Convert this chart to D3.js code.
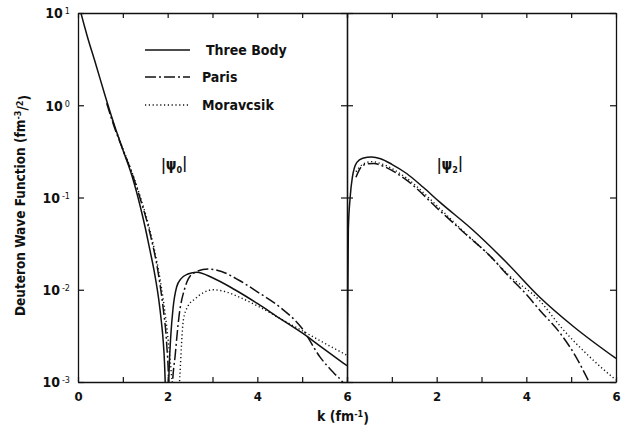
<!DOCTYPE html>
<html><head><meta charset="utf-8">
<script src="https://cdn.jsdelivr.net/npm/d3@7"></script>
<style>
body{margin:0;background:#fff;}
svg{display:block;}
text{font-family:"DejaVu Sans Condensed","Liberation Sans",Arial,sans-serif;font-weight:bold;fill:#111;}
</style></head><body>
<svg id="c" width="626" height="429"></svg>
<script>
// ---------- data ----------
const seriesNames = ["Three Body", "Paris", "Moravcsik"];
const panelLabels = ["0", "2"];
const xTickLabels = [0, 2, 4, 6];
const yTickValues = [1e-3, 1e-2, 1e-1, 1e0, 1e1];
const yTickExps = ["-3", "-2", "-1", "0", "1"];

// |psi_0| (left panel)
const k0Three = [0, 0.2, 0.4, 0.6, 0.8, 1.0, 1.2, 1.4, 1.5, 1.6, 1.7, 1.8, 1.86, 1.9, 1.93, 1.96, 1.98, 2.0, 2.03, 2.07, 2.12, 2.2, 2.3, 2.45, 2.65, 3.0, 3.5, 4.0, 4.5, 5.0, 5.4, 6.0];
const v0Three = [13.2, 5.75, 2.75, 1.29, 0.63, 0.33, 0.174, 0.076, 0.047, 0.0275, 0.0158, 0.0079, 0.0045, 0.0028, 0.0016, 0.0005, 0.0001, 0.0003, 0.00126, 0.0032, 0.0063, 0.0107, 0.0132, 0.0148, 0.0155, 0.0135, 0.0100, 0.0071, 0.0049, 0.0034, 0.00245, 0.0015];
const k0Paris = [0.64, 0.8, 1.0, 1.2, 1.4, 1.6, 1.8, 1.9, 1.98, 2.02, 2.05, 2.1, 2.17, 2.25, 2.39, 2.57, 2.9, 3.2, 3.6, 4.0, 4.5, 5.0, 5.4, 5.7, 5.9, 6.0];
const v0Paris = [1.05, 0.60, 0.33, 0.186, 0.093, 0.042, 0.0141, 0.0063, 0.0025, 0.001, 0.0001, 0.0008, 0.002, 0.005, 0.0107, 0.0151, 0.0168, 0.0158, 0.0126, 0.0095, 0.0065, 0.0038, 0.00186, 0.00126, 0.001, 0.00083];
const k0Morav = [0.66, 0.8, 1.0, 1.2, 1.4, 1.6, 1.8, 1.9, 2.0, 2.08, 2.14, 2.18, 2.22, 2.27, 2.35, 2.45, 2.6, 2.8, 3.0, 3.3, 3.6, 4.0, 4.5, 5.0, 5.4, 6.0];
const v0Morav = [1.0, 0.62, 0.34, 0.19, 0.098, 0.045, 0.0158, 0.0079, 0.0032, 0.00126, 0.0005, 0.0001, 0.0004, 0.00112, 0.0047, 0.0066, 0.0079, 0.0093, 0.0100, 0.0095, 0.0083, 0.0067, 0.0049, 0.0036, 0.0028, 0.00195];

// |psi_2| (right panel)
const k2Three = [0, 0.01, 0.03, 0.07, 0.12, 0.22, 0.35, 0.55, 0.75, 1.0, 1.33, 1.7, 2.07, 2.8, 3.57, 4.3, 5.05, 6.0];
const v2Three = [0.0003, 0.0032, 0.045, 0.1, 0.166, 0.24, 0.266, 0.275, 0.263, 0.229, 0.182, 0.129, 0.089, 0.0447, 0.0195, 0.0083, 0.004, 0.0018];
const k2Paris = [0.2, 0.3, 0.45, 0.6, 0.8, 1.3, 2.07, 2.6, 3.2, 3.6, 4.0, 4.3, 4.75, 5.1, 5.4, 5.5];
const v2Paris = [0.166, 0.209, 0.232, 0.234, 0.219, 0.158, 0.072, 0.042, 0.023, 0.0141, 0.0089, 0.006, 0.0034, 0.0019, 0.001, 0.0008];
const k2Morav = [0.2, 0.35, 0.55, 0.8, 1.3, 2.07, 2.6, 3.2, 3.6, 4.3, 4.8, 5.4, 5.95, 6.0];
const v2Morav = [0.19, 0.229, 0.245, 0.229, 0.166, 0.076, 0.0427, 0.023, 0.0145, 0.0076, 0.0038, 0.0019, 0.0011, 0.00105];

// ---------- layout ----------
const svg = d3.select("#c");
const L = 78, R = 616, T = 13, B = 382, M = (L + R) / 2;
const xL = d3.scaleLinear().domain([0, 6]).range([L, M]);
const xR = d3.scaleLinear().domain([0, 6]).range([M, R]);
const y = d3.scaleLog().domain([1e-3, 1e1]).range([B, T]);

const styles = [
  {dash: null, w: 1.5},
  {dash: "11,3,2,3", w: 1.5},
  {dash: "1.2,2.6", w: 1.4}
];

const defs = svg.append("defs");
defs.append("clipPath").attr("id", "clipL").append("rect").attr("x", L).attr("y", T).attr("width", M - L).attr("height", B - T);
defs.append("clipPath").attr("id", "clipR").append("rect").attr("x", M).attr("y", T).attr("width", R - M).attr("height", B - T);

function drawPanel(x, clip, sets) {
  const g = svg.append("g").attr("clip-path", `url(#${clip})`);
  sets.forEach((s, i) => {
    const pts = s[0].map((k, j) => [k, s[1][j]]);
    const line = d3.line().x(d => x(d[0])).y(d => y(d[1])).curve(d3.curveMonotoneX);
    g.append("path").attr("d", line(pts)).attr("fill", "none").attr("stroke", "#111")
      .attr("stroke-width", styles[i].w).attr("stroke-dasharray", styles[i].dash)
      .attr("stroke-linecap", "butt");
  });
}
drawPanel(xL, "clipL", [[k0Three, v0Three], [k0Paris, v0Paris], [k0Morav, v0Morav]]);
drawPanel(xR, "clipR", [[k2Three, v2Three], [k2Paris, v2Paris], [k2Morav, v2Morav]]);

// ---------- axes ----------
function styleAxis(g) {
  g.select(".domain").attr("stroke", "#111").attr("stroke-width", 1.3);
  g.selectAll(".tick line").attr("stroke", "#111").attr("stroke-width", 1.2);
  g.selectAll(".tick text").style("font-size", "13px").style("font-family", "DejaVu Sans Condensed, sans-serif").style("font-weight", "bold").attr("fill", "#111");
}
const unitTicks = d3.range(0, 7);
// bottom
svg.append("g").attr("transform", `translate(0,${B})`)
  .call(d3.axisBottom(xL).tickValues(unitTicks).tickSize(-5).tickSizeOuter(0).tickPadding(10)
    .tickFormat(d => xTickLabels.includes(d) ? d : ""))
  .call(styleAxis);
svg.append("g").attr("transform", `translate(0,${B})`)
  .call(d3.axisBottom(xR).tickValues(unitTicks).tickSize(-5).tickSizeOuter(0).tickPadding(10)
    .tickFormat(d => (xTickLabels.includes(d) && d > 0) ? d : ""))
  .call(styleAxis);
// top
svg.append("g").attr("transform", `translate(0,${T})`)
  .call(d3.axisTop(xL).tickValues(unitTicks).tickSize(-5).tickSizeOuter(0).tickFormat(""))
  .call(styleAxis);
svg.append("g").attr("transform", `translate(0,${T})`)
  .call(d3.axisTop(xR).tickValues(unitTicks).tickSize(-5).tickSizeOuter(0).tickFormat(""))
  .call(styleAxis);
// left
const yl = svg.append("g").attr("transform", `translate(${L},0)`)
  .call(d3.axisLeft(y).tickValues(yTickValues).tickSize(-6).tickSizeOuter(0).tickFormat(""))
  .call(styleAxis);
yl.selectAll(".tick").each(function(d) {
  const t = d3.select(this).append("text").attr("x", -8).attr("dy", "0.35em")
    .attr("text-anchor", "end").style("font-size", "14px");
  t.append("tspan").text("10");
  t.append("tspan").attr("dy", "-0.45em").attr("dx", "2").style("font-size", "9px").style("font-weight", "normal")
    .text(yTickExps[yTickValues.indexOf(d)]);
});
// middle divider (ticks both sides)
svg.append("g").attr("transform", `translate(${M},0)`)
  .call(d3.axisRight(y).tickValues(yTickValues).tickSize(-6).tickSizeOuter(0).tickFormat(""))
  .call(styleAxis);
svg.append("g").attr("transform", `translate(${M},0)`)
  .call(d3.axisLeft(y).tickValues(yTickValues).tickSize(-6).tickSizeOuter(0).tickFormat(""))
  .call(styleAxis);
// right
svg.append("g").attr("transform", `translate(${R},0)`)
  .call(d3.axisRight(y).tickValues(yTickValues).tickSize(-6).tickSizeOuter(0).tickFormat(""))
  .call(styleAxis);

// ---------- titles ----------
const xt = svg.append("text").attr("x", M - 4).attr("y", 421).attr("text-anchor", "middle").style("font-size", "14px");
xt.append("tspan").text("k (fm");
xt.append("tspan").attr("dy", "-0.45em").style("font-size", "9px").text("-1");
xt.append("tspan").attr("dy", "0.45em").text(")");

const yt = svg.append("text").attr("transform", `translate(25,${(T + B) / 2 + 8}) rotate(-90)`)
  .attr("text-anchor", "middle").style("font-size", "13.5px");
yt.append("tspan").text("Deuteron  Wave  Function  (fm");
yt.append("tspan").attr("dy", "-0.45em").style("font-size", "9px").text("-3");
yt.append("tspan").attr("dy", "0.45em").text("/");
yt.append("tspan").attr("dy", "-0.45em").style("font-size", "9px").text("2");
yt.append("tspan").attr("dy", "0.45em").text(")");

// panel labels
[[xL, 1.85], [xR, 2.0]].forEach((p, i) => {
  const t = svg.append("text").attr("x", p[0](p[1])).attr("y", 170).style("font-size", "15px");
  t.append("tspan").text("|\u03C8");
  t.append("tspan").attr("dy", "0.3em").style("font-size", "9px").text(panelLabels[i]);
  t.append("tspan").attr("dy", "-0.3em").text("|");
});

// legend
const legY = [50, 77, 105];
const legTextX = [206, 202, 202];
seriesNames.forEach((n, i) => {
  svg.append("line").attr("x1", 145).attr("x2", 190).attr("y1", legY[i]).attr("y2", legY[i])
    .attr("stroke", "#111").attr("stroke-width", styles[i].w).attr("stroke-dasharray", styles[i].dash);
  svg.append("text").attr("x", legTextX[i]).attr("y", legY[i]).attr("dy", "0.35em")
    .style("font-size", "14px").text(i === 0 ? "Three  Body" : n);
});
</script></body></html>
